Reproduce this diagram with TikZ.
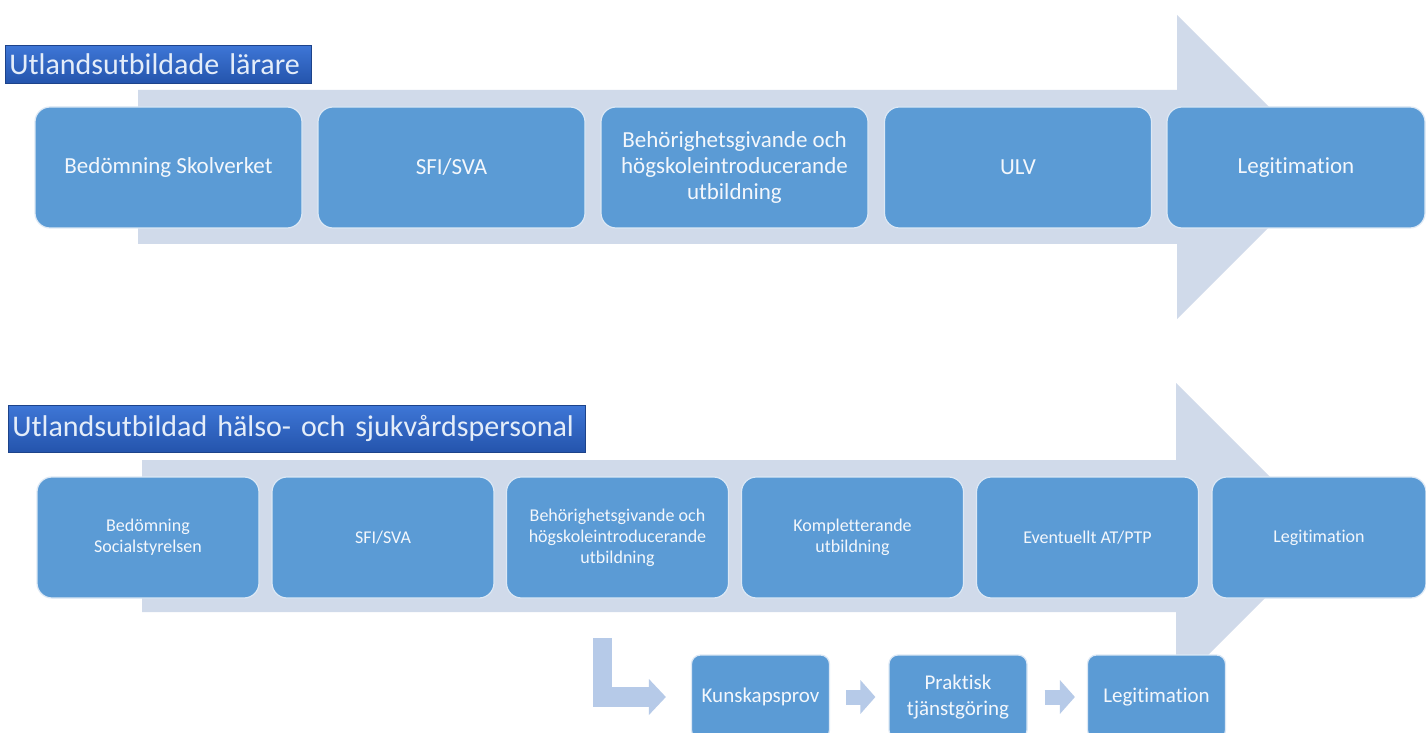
\documentclass[tikz,border=0pt]{standalone}
\usepackage{fontspec}
\setmainfont{Carlito}[Ligatures=NoCommon]
\usetikzlibrary{arrows.meta}

\definecolor{boxblue}{HTML}{5B9BD5}
\definecolor{boxedge}{HTML}{DCE8F5}
\definecolor{flowgray}{HTML}{D0DAEA}
\definecolor{stepblue}{HTML}{B6CAE8}
\definecolor{titletop}{HTML}{3E76D6}
\definecolor{titlebot}{HTML}{2454AC}
\definecolor{boxtext}{HTML}{F3F7FC}

\begin{document}
\begin{tikzpicture}[x=0.5pt, y=-0.5pt,
    stage/.style={draw=boxedge, line width=0.6pt, fill=boxblue, rounded corners=7.5pt,
      text=boxtext, align=center, inner sep=0pt},
    topstage/.style={stage, minimum width=133.5pt, minimum height=60.5pt,
      font=\fontsize{11.5}{13}\selectfont},
    lowstage/.style={stage, minimum width=111pt, minimum height=60.5pt,
      font=\fontsize{9}{10.5}\selectfont},
    substage/.style={stage, rounded corners=4.5pt, minimum width=69pt, minimum height=42pt,
      font=\fontsize{10.5}{13}\selectfont},
    titlebox/.style={anchor=north west, top color=titletop, bottom color=titlebot,
      draw=titlebot!80!black, line width=0.4pt, text=boxtext!92!titletop, align=left,
      inner xsep=2pt, inner ysep=0pt, font=\fontsize{15}{16}\selectfont},
    steparrow/.style={draw=stepblue, line width=7.5pt,
      -{Triangle[width=16.5pt, length=7.5pt]}},
  ]

        % Fix the page size and keep everything inside it
        \useasboundingbox (0,0) rectangle (1426,733);
        \clip (0,0) rectangle (1426,733);
        \fill[white] (0,0) rectangle (1426,733);

        % Define the corners of the two large background arrows
        \coordinate (TopTail) at (138,90);
        \coordinate (TopTip) at (1329,167);
        \coordinate (LowTail) at (142,460);
        \coordinate (LowTip) at (1328,535);

        % Draw the large background arrow of the upper flow
        \fill[flowgray] (TopTail) -- (1177,90) -- (1177,15) -- (TopTip)
          -- (1177,319) -- (1177,244) -- (138,244) -- cycle;

        % Draw the large background arrow of the lower flow
        \fill[flowgray] (LowTail) -- (1176,460) -- (1176,383) -- (LowTip)
          -- (1176,687) -- (1176,612) -- (142,612) -- cycle;

        % Title bars
        \node[titlebox, text width=149pt, minimum height=19pt] (TeachTitle) at (5,45)
          {Utlandsutbildade lärare};
        \node[titlebox, text width=284.5pt, minimum height=23.5pt] (CareTitle) at (8,405)
          {Utlandsutbildad hälso- och sjukvårdspersonal};

        % Steps of the upper flow
        \node[topstage] (TopAssess) at (168.5,167.5) {Bedömning Skolverket};
        \node[topstage] (TopSfi) at (451.5,167.5) {SFI/SVA};
        \node[topstage] (TopQual) at (734.5,167.5)
          {Behörighetsgivande och\\högskoleintroducerande\\utbildning};
        \node[topstage] (TopUlv) at (1018,167.5) {ULV};
        \node[topstage, minimum width=129pt] (TopLeg) at (1296,167.5) {Legitimation};

        % Steps of the lower flow
        \node[lowstage] (LowAssess) at (148,537.5) {Bedömning\\Socialstyrelsen};
        \node[lowstage] (LowSfi) at (383,537.5) {SFI/SVA};
        \node[lowstage] (LowQual) at (617.5,537.5)
          {Behörighetsgivande och\\högskoleintroducerande\\utbildning};
        \node[lowstage] (LowSupp) at (852.5,537.5) {Kompletterande\\utbildning};
        \node[lowstage] (LowAtPtp) at (1087.5,537.5) {Eventuellt AT/PTP};
        \node[lowstage, minimum width=107pt] (LowLeg) at (1319,537.5) {Legitimation};

        % Side track below the lower flow
        \node[substage] (Exam) at (760.5,697) {Kunskapsprov};
        \node[substage] (Practice) at (958,697) {Praktisk\\tjänstgöring};
        \node[substage] (ExamLeg) at (1156.5,697) {Legitimation};

        % Bent arrow leading into the side track
        \coordinate (BendTop) at (602.5,638);
        \draw[steparrow, line width=9.75pt, -{Triangle[width=17.5pt, length=8.5pt]},
          shorten >=12.5pt] (BendTop) |- (Exam.west);

        % Small arrows between the side track steps
        \draw[steparrow, shorten <=8pt, shorten >=6.5pt] (Exam) -- (Practice);
        \draw[steparrow, shorten <=8.5pt, shorten >=6pt] (Practice) -- (ExamLeg);

      \end{tikzpicture}
\end{document}
